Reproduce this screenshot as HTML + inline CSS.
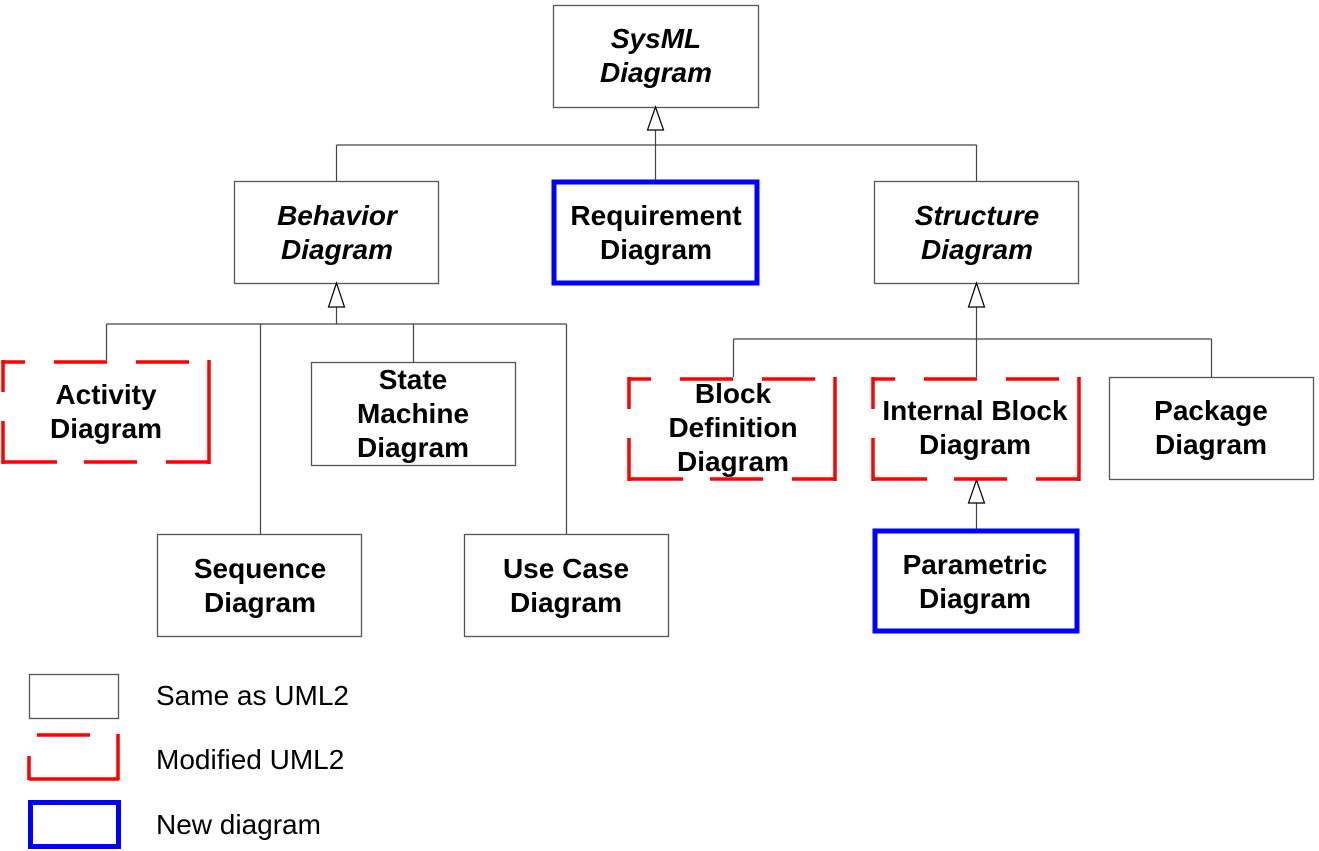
<!DOCTYPE html>
<html><head><meta charset="utf-8"><style>
html,body{margin:0;padding:0;background:#fff;}
svg{display:block;}
text{font-family:"Liberation Sans",Arial,sans-serif;font-size:28px;font-weight:bold;text-anchor:middle;fill:#000;}
.i{font-style:italic;}
.l{font-weight:normal;text-anchor:start;font-size:28px;}
</style></head><body>
<svg width="1319" height="851" viewBox="0 0 1319 851" xmlns="http://www.w3.org/2000/svg">
<g fill="none" stroke="#555" stroke-width="1.3">
<rect x="553.5" y="5.5" width="205" height="102"/>
<rect x="234.5" y="181.5" width="204" height="102"/>
<rect x="874.5" y="181.5" width="204" height="102"/>
<rect x="311.5" y="362.5" width="204" height="103"/>
<rect x="157.5" y="534.5" width="204" height="102"/>
<rect x="464.5" y="534.5" width="204" height="102"/>
<rect x="1109.5" y="377.5" width="204" height="102"/>
<rect x="29.5" y="674.5" width="89" height="44"/>
</g>
<g fill="none" stroke="#444" stroke-width="1.2">
<path d="M655.5 130V145M336.5 145H976.5M336.5 145V181M655.5 145V181M976.5 145V181"/>
<path d="M336.5 307V324M106.5 324H566.5M106.5 324V360M260.5 324V534M413.5 324V362M566.5 324V534"/>
<path d="M976.5 307V339M733.5 339H1211.5M733.5 339V377M976.5 339V377M1211.5 339V377"/>
<path d="M976.5 503V530"/>
</g>
<g fill="#fff" stroke="#000" stroke-width="1.2">
<path d="M655.5 107L647.5 130H663.5Z"/>
<path d="M336.5 283L328.5 307H344.5Z"/>
<path d="M976.5 283L968.5 307H984.5Z"/>
<path d="M976.5 480L968.5 503H984.5Z"/>
</g>
<g fill="none" stroke="#00f" stroke-width="5">
<rect x="554" y="182" width="203" height="101"/>
<rect x="875" y="531" width="202" height="100"/>
<rect x="30.5" y="802.5" width="88" height="44"/>
</g>
<g fill="none" stroke="#f00" stroke-width="3.5" stroke-linecap="butt">
<path d="M3 362H25M54 362H107M136 362H189M209 360V464M3 360V392M3 421V464M3 462H57M84 462H137M166 462H210"/>
<path d="M629 379H651M680 379H733M762 379H815M835 377V481M629 377V409M629 438V481M629 479H683M710 479H763M792 479H836"/>
<path d="M873 379H895M924 379H977M1006 379H1059M1079 377V481M873 377V409M873 438V481M873 479H927M954 479H1007M1036 479H1080"/>
<path d="M37 735H90M118 734V780M29 756V780M29 779H119"/>
</g>
<text class="i" x="656" y="48">SysML</text><text class="i" x="656" y="82">Diagram</text>
<text class="i" x="337" y="225">Behavior</text><text class="i" x="337" y="259">Diagram</text>
<text x="656" y="225">Requirement</text><text x="656" y="259">Diagram</text>
<text class="i" x="977" y="225">Structure</text><text class="i" x="977" y="259">Diagram</text>
<text x="106" y="404">Activity</text><text x="106" y="438">Diagram</text>
<text x="413" y="389">State</text><text x="413" y="423">Machine</text><text x="413" y="457">Diagram</text>
<text x="733" y="403">Block</text><text x="733" y="437">Definition</text><text x="733" y="471">Diagram</text>
<text x="975" y="420">Internal Block</text><text x="975" y="454">Diagram</text>
<text x="1211" y="420">Package</text><text x="1211" y="454">Diagram</text>
<text x="260" y="578">Sequence</text><text x="260" y="612">Diagram</text>
<text x="566" y="578">Use Case</text><text x="566" y="612">Diagram</text>
<text x="975" y="574">Parametric</text><text x="975" y="608">Diagram</text>
<text class="l" x="156" y="705">Same as UML2</text>
<text class="l" x="156" y="769">Modified UML2</text>
<text class="l" x="156" y="834">New diagram</text>
</svg>
</body></html>
